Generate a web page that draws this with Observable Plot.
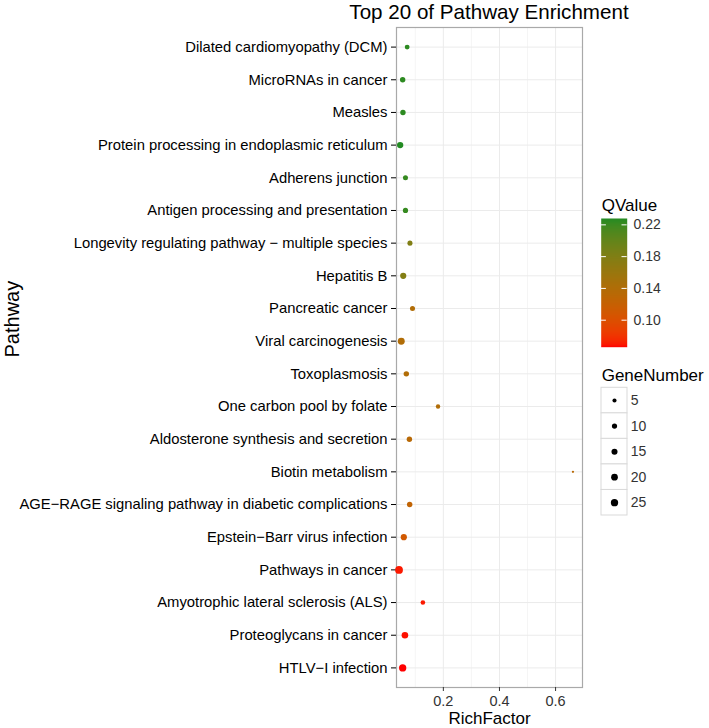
<!DOCTYPE html>
<html><head><meta charset="utf-8">
<script src="https://cdn.jsdelivr.net/npm/d3@7"></script>
<script src="https://cdn.jsdelivr.net/npm/@observablehq/plot@0.6"></script>
<style>
body{margin:0;background:#fff;font-family:"Liberation Sans",Arial,sans-serif;}
#wrap{position:relative;width:709px;height:728px;overflow:hidden;background:#fff;}
#wrap > *{position:absolute;}
.ttl{white-space:nowrap;line-height:1;color:#000;}
</style></head><body><div id="wrap"></div>
<script>
const pathways = [
  "Dilated cardiomyopathy (DCM)",
  "MicroRNAs in cancer",
  "Measles",
  "Protein processing in endoplasmic reticulum",
  "Adherens junction",
  "Antigen processing and presentation",
  "Longevity regulating pathway \u2212 multiple species",
  "Hepatitis B",
  "Pancreatic cancer",
  "Viral carcinogenesis",
  "Toxoplasmosis",
  "One carbon pool by folate",
  "Aldosterone synthesis and secretion",
  "Biotin metabolism",
  "AGE\u2212RAGE signaling pathway in diabetic complications",
  "Epstein\u2212Barr virus infection",
  "Pathways in cancer",
  "Amyotrophic lateral sclerosis (ALS)",
  "Proteoglycans in cancer",
  "HTLV\u2212I infection"
];
const richFactor = [0.071,0.055,0.056,0.046,0.065,0.065,0.081,0.057,0.090,0.050,
                    0.068,0.181,0.079,0.662,0.080,0.059,0.042,0.127,0.063,0.055];
const geneNumber = [8,11,11,17,9,10,9,16,9,22,
                    11,6,11,2,11,16,30,7,19,25];
const qValue = [0.225,0.225,0.225,0.228,0.222,0.222,0.180,0.178,0.140,0.140,
                0.140,0.140,0.133,0.133,0.125,0.110,0.070,0.070,0.068,0.066];
const xTicks = [0.2,0.4,0.6];
const xMinor = [0.1,0.3,0.5];
const qTicks = [0.10,0.14,0.18,0.22];
const sizeBreaks = [5,10,15,20,25];

const data = pathways.map((p,i)=>({pathway:p, rich:richFactor[i], genes:geneNumber[i], q:qValue[i]}));
const qDomain = [0.066,0.228];
const colorScale = {type:"linear", domain:qDomain, range:["#ff0000","#228b22"], interpolate:"lab"};
const gMin = 2, gMax = 30;
const rScale = {type:"linear", domain:[0,1], range:[1.15,3.9], transform: g => Math.sqrt(Math.max(0,(g-gMin)/(gMax-gMin)))};
const font = "Liberation Sans, Arial, sans-serif";
const wrap = document.getElementById("wrap");

const main = Plot.plot({
  width:590, height:728, marginLeft:396, marginRight:8, marginTop:27, marginBottom:41,
  style:{fontFamily:font, background:"white"},
  x:{domain:[0.033,0.696]},
  y:{type:"point", domain:pathways, padding:0.6, round:false},
  color:colorScale, r:rScale,
  marks:[
    Plot.gridX(xMinor,{stroke:"#f3f3f3", strokeOpacity:1, strokeWidth:0.8}),
    Plot.gridX(xTicks,{stroke:"#ebebeb", strokeOpacity:1}),
    Plot.gridY(pathways,{stroke:"#ebebeb", strokeOpacity:1}),
    Plot.frame({stroke:"#a9a9a9", strokeWidth:1.2}),
    Plot.axisX(xTicks,{tickSize:4, tickPadding:4.5, fontSize:14.5, color:"#333", label:null, tickFormat:d=>d.toFixed(1)}),
    Plot.axisY({tickSize:5, tickPadding:4, fontSize:14.8, color:"#000", label:null}),
    Plot.dot(data,{x:"rich", y:"pathway", r:"genes", fill:"q"}),
    Plot.text(["RichFactor"],{frameAnchor:"bottom", lineAnchor:"middle", dy:31.5, text:d=>d, fontSize:17, fill:"#000"}),
    Plot.text(["Pathway"],{frameAnchor:"left", lineAnchor:"middle", dx:-384, rotate:-90, text:d=>d, fontSize:20, fill:"#000"})
  ]
});
main.style.left = "0px"; main.style.top = "0px";
wrap.appendChild(main);

// colour bar legend
const cbar = Plot.plot({
  width:119, height:170,
  style:{fontFamily:font, background:"transparent", overflow:"visible"},
  x:{domain:[0,1], range:[10.7,36.7], axis:null},
  y:{domain:qDomain, range:[156.7,28], axis:null},
  color:colorScale,
  marks:[
    Plot.raster({x1:0, x2:1, y1:qDomain[0], y2:qDomain[1], width:2, height:160, fill:(x,y)=>y, imageRendering:"auto"}),
    Plot.ruleY(qTicks,{x1:0, x2:0.2, stroke:"white", strokeWidth:1}),
    Plot.ruleY(qTicks,{x1:0.8, x2:1, stroke:"white", strokeWidth:1}),
    Plot.text(qTicks,{x:1, y:d=>d, dx:6.3, text:d=>d.toFixed(2), textAnchor:"start", fontSize:14, fill:"#333"})
  ]
});
cbar.style.left = "590px"; cbar.style.top = "190px";
wrap.appendChild(cbar);

// size legend
const sleg = Plot.plot({
  width:119, height:150,
  style:{fontFamily:font, background:"transparent", overflow:"visible"},
  x:{type:"band", domain:["k"], range:[10.7,36.7], padding:0, axis:null},
  y:{type:"band", domain:sizeBreaks, range:[7.3,135], padding:0, axis:null, round:false},
  r:rScale,
  marks:[
    Plot.cell(sizeBreaks,{x:()=>"k", y:d=>d, fill:"white", stroke:"#d9d9d9"}),
    Plot.dot(sizeBreaks,{x:()=>"k", y:d=>d, r:d=>d, fill:"black"}),
    Plot.text(sizeBreaks,{x:()=>"k", y:d=>d, dx:16.3, text:d=>String(d), textAnchor:"start", fontSize:14, fill:"#333"})
  ]
});
sleg.style.left = "590px"; sleg.style.top = "380px";
wrap.appendChild(sleg);

function addText(txt, left, top, size, extra){
  const d = document.createElement("div");
  d.className = "ttl";
  d.textContent = txt;
  d.style.left = left + "px"; d.style.top = top + "px"; d.style.fontSize = size + "px";
  if (extra) Object.assign(d.style, extra);
  wrap.appendChild(d);
}
addText("Top 20 of Pathway Enrichment", 289, 2, 20.6, {width:"400px", textAlign:"center"});
addText("QValue", 601.7, 196.6, 17);
addText("GeneNumber", 601.7, 366.6, 17);
</script>
</body></html>
